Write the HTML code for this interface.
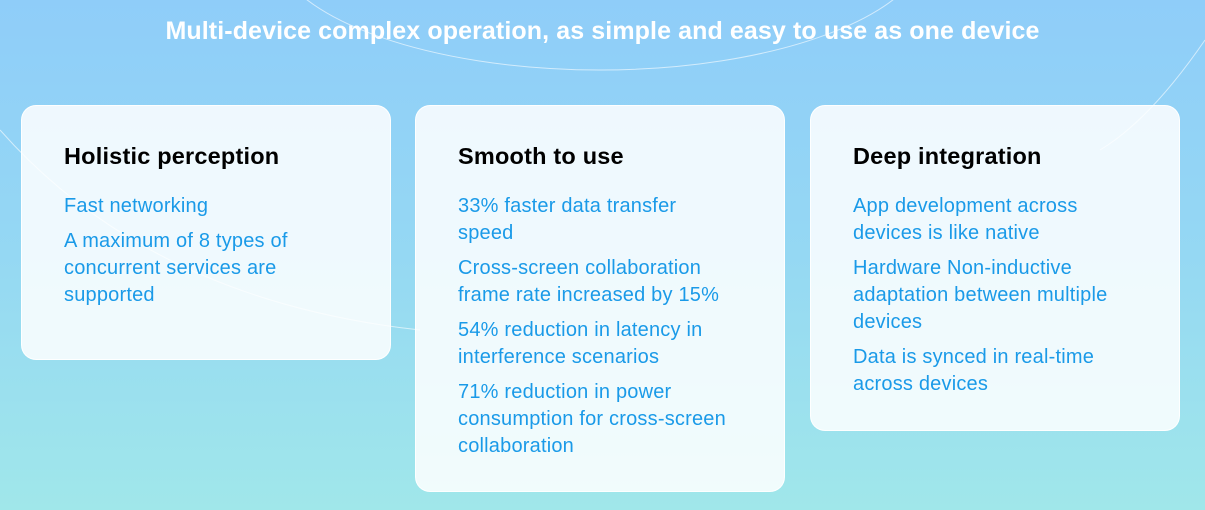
<!DOCTYPE html>
<html><head><style>
body{margin:0;width:1205px;height:510px;overflow:hidden;font-family:"Liberation Sans",sans-serif;background:linear-gradient(180deg,#8fcdf9 0%,#95d8f3 50%,#a0e7ea 100%);position:relative}
h1{position:absolute;top:17px;left:0;width:1205px;text-align:center;margin:0;color:#fff;font-size:25px;font-weight:bold;letter-spacing:0.1px}
.card{position:absolute;top:105px;width:370px;border-radius:15px;background:rgba(255,255,255,0.85);border:1px solid rgba(255,255,255,0.95);box-sizing:border-box;padding:36px 0 0 42px}
.card h2{margin:0 0 23px;font-size:23.5px;color:#000;font-weight:bold;line-height:28px;letter-spacing:0.2px}
.card p{margin:0 0 8px;font-size:20px;line-height:27px;color:#1a9ae8;width:273px;letter-spacing:0.2px}
</style></head><body>
<svg width="1205" height="510" style="position:absolute;left:0;top:0">
<ellipse cx="600" cy="-60" rx="330" ry="130" fill="none" stroke="rgba(255,255,255,0.6)"/>
<path d="M0,130 Q150,300 420,330" fill="none" stroke="rgba(255,255,255,0.6)"/>
<path d="M1205,40 Q1150,120 1100,150" fill="none" stroke="rgba(255,255,255,0.6)"/>
</svg>
<h1>Multi-device complex operation, as simple and easy to use as one device</h1>
<div class="card" style="left:21px;height:255px">
<h2>Holistic perception</h2>
<p>Fast networking</p>
<p>A maximum of 8 types of concurrent services are supported</p>
</div>
<div class="card" style="left:415px;height:387px">
<h2>Smooth to use</h2>
<p>33% faster data transfer speed</p>
<p>Cross-screen collaboration frame rate increased by 15%</p>
<p>54% reduction in latency in interference scenarios</p>
<p>71% reduction in power consumption for cross-screen collaboration</p>
</div>
<div class="card" style="left:810px;height:326px">
<h2>Deep integration</h2>
<p>App development across devices is like native</p>
<p>Hardware Non-inductive adaptation between multiple devices</p>
<p>Data is synced in real-time across devices</p>
</div>
</body></html>
